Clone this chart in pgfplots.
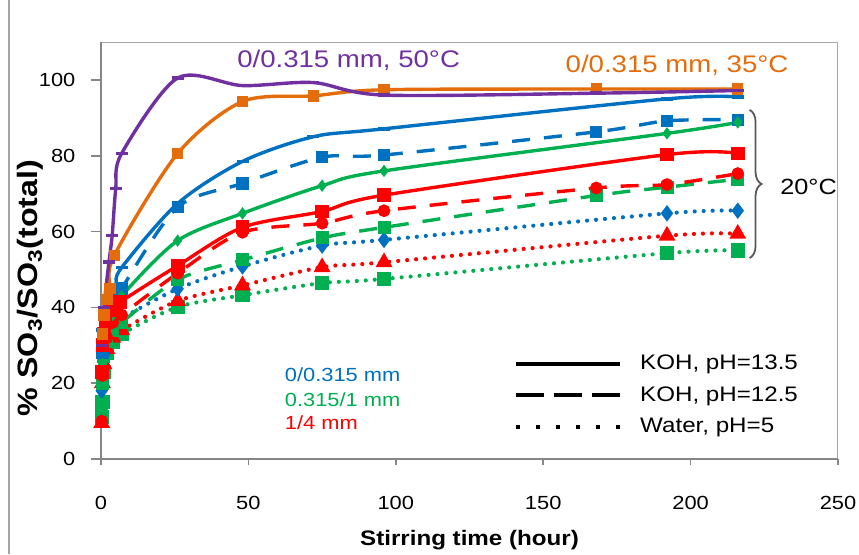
\documentclass[border=0pt]{standalone}
\usepackage{fontspec}
\setmainfont[FakeStretch=1.15]{Liberation Sans}
\usepackage{pgfplots}
\pgfplotsset{compat=1.18}
\usetikzlibrary{decorations.pathreplacing}
\definecolor{Purp}{HTML}{7030A0}
\definecolor{Orng}{HTML}{E46C0A}
\definecolor{Blu}{HTML}{0070C0}
\definecolor{Grn}{HTML}{00B050}
\definecolor{Rd}{HTML}{FF0000}
\definecolor{AxGray}{HTML}{868686}
\definecolor{BoxGray}{HTML}{A6A6A6}

\begin{document}
\begin{tikzpicture}
\useasboundingbox (-50.5pt,-47.5pt) rectangle (379pt,229.5pt);
\draw[BoxGray,line width=1pt] (-46pt,-47.5pt) -- (-46pt,229.5pt);
\begin{axis}[at={(0pt,0pt)},anchor=south west,scale only axis,
width=368.5pt,height=208.5pt,xmin=0,xmax=250,ymin=0,ymax=110,
xtick={0,50,...,250},ytick={0,20,...,100},tick align=outside,tick pos=left,
axis line style={draw=BoxGray,line width=0.5pt},
xtick style={draw=AxGray,line width=0.8pt,/pgfplots/major tick length=3pt},
ytick style={draw=AxGray,line width=0.8pt,/pgfplots/major tick length=5pt},
tick label style={font=\fontsize{9.5}{11}\selectfont},
/pgf/number format/assume math mode=true,
xticklabel style={anchor=center,yshift=-17.5pt},
yticklabel style={anchor=east,xshift=-5pt},
xlabel={\textbf{Stirring time (hour)}},ylabel={\textbf{\% SO\textsubscript{3}/SO\textsubscript{3}(total)}},
label style={font=\fontsize{10.5}{12}\selectfont},
ylabel style={font=\fontsize{14}{16}\selectfont},
xlabel style={at={(axis description cs:0.5,-0.194)},anchor=center},
ylabel style={at={(axis description cs:-0.096,0.41)},anchor=center},
clip=false,
legend cell align=left,
legend style={draw=none,fill=none,font=\fontsize{10.5}{12}\selectfont,
at={(axis description cs:0.552,0.27)},anchor=north west,row sep=3pt,
/tikz/every odd column/.append style={column sep=7pt}},
legend image code/.code={\draw[#1] (0pt,0pt) -- (52pt,0pt);},
lw/.style={line width=1.7pt,smooth,tension=0.5},
dsh/.style={dash pattern=on 9pt off 7pt},
dtt/.style={dash pattern=on 0pt off 4.5pt,line cap=round,line width=2.1pt},
]
\addlegendimage{black,line width=2pt}
\addlegendentry{KOH, pH=13.5}
\addlegendimage{black,line width=2pt,dash pattern=on 14pt off 5pt}
\addlegendentry{KOH, pH=12.5}
\addlegendimage{black,line width=2pt,dash pattern=on 2pt off 8pt}
\addlegendentry{Water, pH=5}

% water, pH=5 (dotted)
\addplot[Grn,lw,dtt,mark=square*,mark size=2.5pt,mark options={solid}] coordinates
{(0.25,11)(0.5,15)(1,23)(2,28)(4,31)(7,33)(26,40.1)(48,43.2)(75,46.4)(96,47.5)(192,54.3)(216,55)};
\addplot[Rd,lw,dtt,mark=triangle*,mark size=2.8pt,mark options={solid}] coordinates
{(0.25,9.5)(0.5,20)(1,25)(2,29)(4,32)(7,34)(26,41.7)(48,45.8)(75,50.6)(96,51.9)(192,58.9)(216,59.4)};
\addplot[Blu,lw,dtt,mark=diamond*,mark size=2.4pt,mark options={solid}] coordinates
{(0.25,18)(0.5,22)(1,27)(2,31)(4,34)(7,37)(26,44.9)(48,50.8)(75,56.3)(96,57.8)(192,64.8)(216,65.5)};
% KOH, pH=12.5 (dashed)
\addplot[Grn,lw,dsh,mark=square*,mark size=2.4pt,mark options={solid}] coordinates
{(0.25,13)(0.5,20)(1,27)(2,31)(4,34)(7,36)(26,47.3)(48,52.5)(75,58.3)(96,61.1)(168,69.5)(192,71.7)(216,73.8)};
\addplot[Rd,lw,dsh,mark=*,mark size=2.3pt,mark options={solid}] coordinates
{(0.25,10)(0.5,22)(1,28)(2,32)(4,36)(7,38)(26,49)(48,59.8)(75,62.2)(96,65.5)(168,71.5)(192,72.4)(216,75.3)};
\addplot[Blu,lw,dsh,mark=square*,mark size=2.2pt,mark options={solid}] coordinates
{(0.5,28)(1,33)(2,38)(5,42)(7,45)(26,66.4)(48,72.7)(75,79.6)(96,80.2)(168,86.3)(192,89.2)(216,89.5)};
% KOH, pH=13.5 (solid)
\addplot[Grn,lw,mark=diamond*,mark size=1.7pt] coordinates
{(0.5,25)(1,30)(2,34)(4,38)(7,43)(26,57.6)(48,64.8)(75,72.1)(96,76)(192,85.9)(216,88.8)};
\addplot[Rd,lw,mark=square*,mark size=2.6pt] coordinates
{(0.25,23)(0.5,30)(1,33)(1.5,36)(4,39.2)(6.5,41.4)(26,51)(48,61.1)(75,65.3)(96,69.6)(192,80.3)(216,80.6)};
\addplot[Blu,lw,mark=-,mark size=3pt] coordinates
{(0.5,34)(1,38.5)(2.5,42)(5,46)(7,50.5)(26,67.4)(48,78.5)(72,85)(96,87.1)(192,95)(216,95.5)};
% 35 and 50 C
\addplot[Orng,lw,mark=square*,mark size=2pt] coordinates
{(0.5,33)(1,38)(2,42)(3,45)(4.5,53.7)(26,80.6)(48,94.3)(72,95.8)(96,97.4)(168,97.6)(216,97.6)};
\addplot[Purp,lw,mark=-,mark size=3pt] coordinates
{(0.5,30)(1,40)(2.7,52)(3.8,59)(5,71.3)(7,80.6)(26,100.5)(48,98.5)(72,99.3)(96,96)(168,96.5)(216,97.2)};

\draw[AxGray,line width=1pt] (rel axis cs:0,1) -- (rel axis cs:0,0) -- (rel axis cs:1,0);
\node[Purp,font=\fontsize{12}{14}\selectfont] at (axis cs:84,105.2) {0/0.315 mm, 50°C};
\node[Orng,font=\fontsize{12}{14}\selectfont] at (axis cs:195.4,103.9) {0/0.315 mm, 35°C};
\node[font=\fontsize{11}{13}\selectfont] at (axis cs:240,71.7) {20°C};
\draw[black!65,line width=0.9pt,decorate,decoration={brace,amplitude=6pt}]
 (axis cs:220,92.1) -- (axis cs:220,53);
\node[Blu,anchor=west,font=\fontsize{9.5}{11}\selectfont] at (axis cs:60,22.2) {0/0.315 mm};
\node[Grn,anchor=west,font=\fontsize{9.5}{11}\selectfont] at (axis cs:60,15.6) {0.315/1 mm};
\node[Rd,anchor=west,font=\fontsize{9.5}{11}\selectfont] at (axis cs:60,9.5) {1/4 mm};
\end{axis}
\end{tikzpicture}
\end{document}
